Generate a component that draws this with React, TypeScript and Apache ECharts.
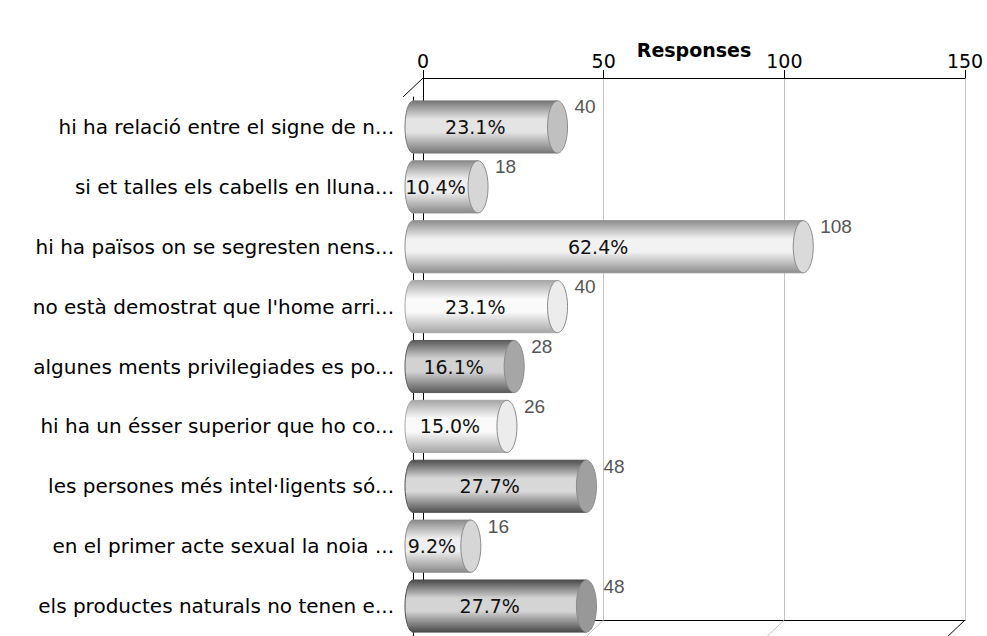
import React, { useEffect, useRef } from "react";
import * as echarts from "echarts";

const categories = [
  "hi ha relació entre el signe de n...",
  "si et talles els cabells en lluna...",
  "hi ha països on se segresten nens...",
  "no està demostrat que l'home arri...",
  "algunes ments privilegiades es po...",
  "hi ha un ésser superior que ho co...",
  "les persones més intel·ligents só...",
  "en el primer acte sexual la noia ...",
  "els productes naturals no tenen e...",
];
const responses = [40, 18, 108, 40, 28, 26, 48, 16, 48];
const percentLabels = ["23.1%", "10.4%", "62.4%", "23.1%", "16.1%", "15.0%", "27.7%", "9.2%", "27.7%"];
const axisTicks = [0, 50, 100, 150];

// styling: per-bar shade (edge, highlight, cap)
const shades = [
  ["#767676", "#e4e4e4", "#c0c0c0"],
  ["#8a8a8a", "#eeeeee", "#d6d6d6"],
  ["#8e8e8e", "#f2f2f2", "#dadada"],
  ["#a6a6a6", "#fafafa", "#ececec"],
  ["#5a5a5a", "#d2d2d2", "#a6a6a6"],
  ["#a6a6a6", "#fafafa", "#ececec"],
  ["#505050", "#d8d8d8", "#a0a0a0"],
  ["#8a8a8a", "#eeeeee", "#d6d6d6"],
  ["#4a4a4a", "#d4d4d4", "#989898"],
];

const FONT = "DejaVu Sans";
const BACK = { left: 423, top: 78, width: 542, height: 542 };
const DX = -20;
const DY = 19;

export default function App() {
  const ref = useRef<HTMLDivElement>(null);
  useEffect(() => {
    if (!ref.current) return;
    const chart = echarts.init(ref.current, undefined, { renderer: "svg" });
    const right = BACK.left + BACK.width;
    const bottom = BACK.top + BACK.height;
    const diag = (x: number, y: number, color: string) => ({
      type: "line",
      z: 1,
      shape: { x1: x, y1: y, x2: x + DX, y2: y + DY },
      style: { stroke: color, lineWidth: 1 },
    });
    const scale = BACK.width / 150;
    chart.setOption({
      animation: false,
      backgroundColor: "#ffffff",
      grid: [
        { left: BACK.left, top: BACK.top, width: BACK.width, height: BACK.height },
        { left: BACK.left - 10, top: BACK.top + DY, width: BACK.width, height: BACK.height },
      ],
      xAxis: [
        {
          gridIndex: 0,
          type: "value",
          position: "top",
          min: axisTicks[0],
          max: axisTicks[axisTicks.length - 1],
          interval: 50,
          name: "Responses",
          nameLocation: "middle",
          nameGap: 19,
          nameMoveOverlap: false,
          nameTextStyle: { fontFamily: FONT, fontWeight: "bold", fontSize: 19, color: "#000" },
          axisLine: { show: true, lineStyle: { color: "#000", width: 1 } },
          axisTick: { show: true, length: 8, lineStyle: { color: "#000" } },
          axisLabel: { fontFamily: FONT, fontSize: 19, color: "#000", margin: 8 },
          splitLine: { show: true, lineStyle: { color: "#c4c4c4", width: 1 } },
        },
        {
          gridIndex: 0,
          type: "value",
          position: "bottom",
          min: 0,
          max: 150,
          axisLine: { show: true, lineStyle: { color: "#000", width: 1 } },
          axisTick: { show: false },
          axisLabel: { show: false },
          splitLine: { show: false },
        },
        {
          gridIndex: 1,
          type: "value",
          min: 0,
          max: 150,
          show: false,
        },
      ],
      yAxis: [
        {
          gridIndex: 0,
          type: "category",
          data: categories,
          axisLine: { show: true, lineStyle: { color: "#000" } },
          axisTick: { show: false },
          axisLabel: { show: false },
        },
        {
          gridIndex: 0,
          type: "category",
          position: "right",
          data: categories,
          axisLine: { show: true, lineStyle: { color: "#000" } },
          axisTick: { show: false },
          axisLabel: { show: false },
        },
        {
          gridIndex: 1,
          type: "category",
          inverse: true,
          data: categories,
          offset: 10,
          axisLine: { show: true, lineStyle: { color: "#000" } },
          axisTick: { show: true, alignWithLabel: true, length: 6, lineStyle: { color: "#000" } },
          axisLabel: { fontFamily: FONT, fontSize: 20, color: "#000", margin: 9 },
        },
      ],
      graphic: [
        diag(BACK.left, BACK.top, "#000"),
        diag(BACK.left + 50 * scale, bottom, "#c4c4c4"),
        diag(BACK.left + 100 * scale, bottom, "#c4c4c4"),
        diag(right, bottom, "#000"),
      ],
      series: [
        {
          type: "custom",
          xAxisIndex: 2,
          yAxisIndex: 2,
          z: 5,
          data: responses.map((v, i) => [v, i]),
          renderItem: (params: any, api: any) => {
            const idx = api.value(1);
            const v = api.value(0);
            const [x1, cy] = api.coord([v, idx]);
            const [x0] = api.coord([0, idx]);
            const h = api.size([0, 1])[1] * 0.87;
            const top = cy - h / 2;
            const [d, l, cap] = shades[params.dataIndex % shades.length];
            const grad = () =>
              new echarts.graphic.LinearGradient(0, 0, 0, 1, [
                { offset: 0, color: d },
                { offset: 0.35, color: l },
                { offset: 0.6, color: l },
                { offset: 1, color: d },
              ]);
            return {
              type: "group",
              children: [
                {
                  type: "ellipse",
                  shape: { cx: x0, cy, rx: 8, ry: h / 2 },
                  style: { fill: grad(), stroke: d, lineWidth: 1 },
                },
                {
                  type: "rect",
                  shape: { x: x0, y: top, width: x1 - x0, height: h },
                  style: { fill: grad() },
                },
                {
                  type: "line",
                  shape: { x1: x0, y1: top, x2: x1, y2: top },
                  style: { stroke: d, lineWidth: 1 },
                },
                {
                  type: "line",
                  shape: { x1: x0, y1: top + h, x2: x1, y2: top + h },
                  style: { stroke: d, lineWidth: 1 },
                },
                {
                  type: "ellipse",
                  shape: { cx: x1, cy, rx: 10, ry: h / 2 },
                  style: { fill: cap, stroke: "#8a8a8a", lineWidth: 1 },
                },
                {
                  type: "text",
                  x: (x0 + x1) / 2 - 10,
                  y: cy,
                  style: {
                    text: percentLabels[params.dataIndex],
                    fill: "#111",
                    font: `19px "${FONT}"`,
                    align: "center",
                    verticalAlign: "middle",
                  },
                },
                {
                  type: "text",
                  x: x1 + 17,
                  y: top + 6,
                  style: {
                    text: String(v),
                    fill: "#555",
                    font: `19px "Liberation Sans Narrow", "Liberation Sans", sans-serif`,
                    align: "left",
                    verticalAlign: "middle",
                  },
                },
              ],
            };
          },
        },
      ],
    });
    return () => chart.dispose();
  }, []);
  return (
    <div
      ref={ref}
      style={{ position: "fixed", left: 0, top: 0, width: 987, height: 636, background: "#fff" }}
    />
  );
}
